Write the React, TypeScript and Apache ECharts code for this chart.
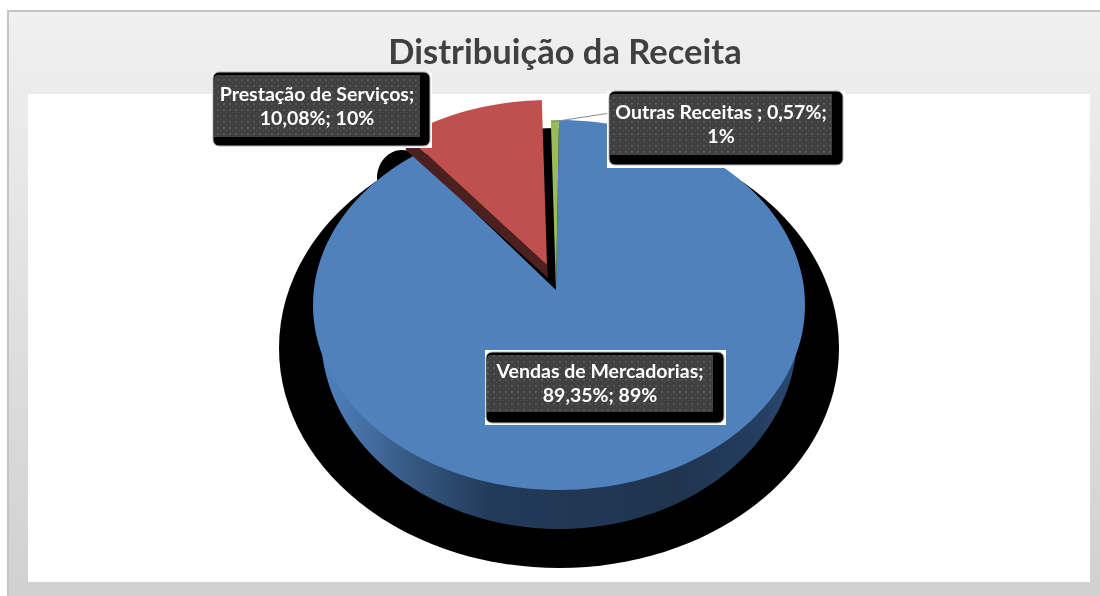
import React, { useEffect, useRef } from "react";
import * as echarts from "echarts";

const categories = ["Vendas de Mercadorias", "Prestação de Serviços", "Outras Receitas "];
const shares = [89.35, 10.08, 0.57];
const shareLabels = ["89,35%", "10,08%", "0,57%"];
const rounded = ["89%", "10%", "1%"];
const sliceColors = ["#4f81bd", "#c0504d", "#9bbb59"];
const title = "Distribuição da Receita";

const FONT = "Lato, sans-serif";
const CX = 559, CY = 305, RX = 246, RY = 185, APEX_X = 556, APEX_Y = 290, START = 0;
const WALL_CY = 335, WALL_RX = 238, WALL_RY = 194;
const RED_DX = -9, RED_DY = -20, RED_APEX_DY = -25;
const BOXES = [
  { x: 487, y: 355, w: 226, h: 57, r: 724, b: 423, outer: [485, 350, 241, 75] },
  { x: 214, y: 75, w: 206, h: 62, r: 430, b: 146, outer: [212, 73, 220, 75] },
  { x: 610, y: 94, w: 222, h: 61, r: 843, b: 165, outer: [607, 91, 238, 77] },
];

function warp(deg: number): number {
  // foreshortening of the 3D view
  return deg - 4 * Math.sin((deg * Math.PI) / 180);
}
function pt(deg: number, dy = 0, dx = 0): number[] {
  const r = (warp(deg) * Math.PI) / 180;
  return [CX + RX * Math.sin(r) + dx, CY - RY * Math.cos(r) + dy];
}
function arc(a: number, b: number, dy = 0, dx = 0): number[][] {
  const n = Math.max(2, Math.ceil(Math.abs(b - a) / 2));
  const out: number[][] = [];
  for (let i = 0; i <= n; i++) out.push(pt(a + ((b - a) * i) / n, dy, dx));
  return out;
}
function wallRim(): number[][] {
  const out: number[][] = [];
  for (let d = 90; d <= 270; d += 2) {
    const r = (d * Math.PI) / 180;
    out.push([CX + WALL_RX * Math.sin(r), WALL_CY - WALL_RY * Math.cos(r)]);
  }
  return out;
}
function sliceAngles(i: number): number[] {
  const total = shares.reduce((s, v) => s + v, 0);
  const before = shares.slice(0, i).reduce((s, v) => s + v, 0);
  return [START + (before / total) * 360, START + ((before + shares[i]) / total) * 360];
}
function dotPattern(): any {
  const c = document.createElement("canvas");
  c.width = 6; c.height = 6;
  const g = c.getContext("2d")!;
  g.fillStyle = "#404040"; g.fillRect(0, 0, 6, 6);
  g.fillStyle = "#555555"; g.fillRect(1, 1, 2, 2); g.fillRect(4, 4, 1, 1);
  return { image: c, repeat: "repeat" };
}

export default function App() {
  const ref = useRef<HTMLDivElement>(null);
  useEffect(() => {
    document.body.style.margin = "0";
    document.body.style.overflow = "hidden";
    const chart = echarts.init(ref.current!, undefined, { renderer: "svg" });
    const pattern = dotPattern();
    const labelEls: any[] = categories.map((c, i) => {
      const b = BOXES[i];
      const line1 = i === 2 ? `${c}; ${shareLabels[i]};` : `${c};`;
      const line2 = i === 2 ? rounded[i] : `${shareLabels[i]}; ${rounded[i]}`;
      return {
        type: "group",
        z: 50,
        children: [
          { type: "rect", z: 50, shape: { x: b.outer[0], y: b.outer[1], width: b.outer[2], height: b.outer[3] }, style: { fill: "#ffffff" } },
          { type: "rect", z: 51, shape: { x: b.x - 1, y: b.y - 3, width: b.r - b.x + 1, height: b.b - b.y + 3, r: 6 }, style: { fill: "#000000", stroke: "#b4b4b4", lineWidth: 1 } },
          { type: "rect", z: 52, shape: { x: b.x, y: b.y, width: b.w, height: b.h, r: [4, 0, 0, 0] }, style: { fill: pattern } },
          { type: "text", z: 53, x: b.x + b.w / 2, y: b.y + b.h / 2 - 1, style: { text: `${line1}\n${line2}`, fill: "#ffffff", font: `bold 19.5px ${FONT}`, align: "center", verticalAlign: "middle", lineHeight: 24 } },
        ],
      };
    });
    chart.setOption({
      animation: false,
      title: { text: title, left: 560, top: 28, textAlign: "center", textStyle: { fontFamily: FONT, fontWeight: "bold", fontSize: 34.5, color: "#404040" } },
      graphic: [
        { type: "rect", z: -3, shape: { x: 8, y: 11, width: 1100, height: 600 }, style: { fill: new echarts.graphic.LinearGradient(0, 0, 0, 1, [{ offset: 0, color: "#f0f0f0" }, { offset: 1, color: "#d0d0d0" }]), stroke: "#c4c4c4", lineWidth: 2 } },
        { type: "rect", z: -2, shape: { x: 28, y: 94, width: 1062, height: 488 }, style: { fill: "#ffffff" } },
        { type: "group", z: 50, children: labelEls },
      ],
      series: [
        {
          type: "custom", coordinateSystem: "none", z: 2, silent: true, data: [0],
          renderItem: () => ({
            type: "group",
            children: [
              { type: "ellipse", shape: { cx: 559, cy: 348, rx: 280, ry: 220 }, style: { fill: "#000000" } },
              { type: "ellipse", shape: { cx: 402, cy: 178, rx: 25, ry: 28 }, style: { fill: "#000000" } },
            ],
          }),
        },
        {
          type: "custom", coordinateSystem: "none", z: 3, silent: true, data: [0],
          renderItem: () => ({
            type: "polygon",
            shape: { points: wallRim() },
            style: {
              fill: new echarts.graphic.LinearGradient(0, 0, 1, 0, [
                { offset: 0, color: "#4f81bd" },
                { offset: 0.06, color: "#4a76ad" },
                { offset: 0.2, color: "#34567f" },
                { offset: 0.36, color: "#223a59" },
                { offset: 0.75, color: "#20344f" },
                { offset: 0.92, color: "#243e60" },
                { offset: 1, color: "#2a4a72" },
              ]),
            },
          }),
        },
        {
          type: "custom", coordinateSystem: "none", z: 4, silent: true, data: shares.map((v, i) => [i, v]),
          renderItem: (_p: any, api: any) => {
            const i = api.value(0) as number;
            const [a, b] = sliceAngles(i);
            if (i === 1) {
              const apex = [APEX_X + RED_DX, APEX_Y + RED_APEX_DY];
              const rim = arc(a, b, RED_DY, RED_DX);
              return {
                type: "group",
                children: [
                  { type: "polygon", shape: { points: [[apex[0] + 1, apex[1] + 13], [rim[0][0], rim[0][1] + 15], rim[0], apex] }, style: { fill: "#4d2020" } },
                  { type: "polygon", shape: { points: [apex, ...rim] }, style: { fill: sliceColors[i] } },
                ],
              };
            }
            return {
              type: "polygon",
              shape: { points: [[APEX_X, APEX_Y], ...arc(a, b)] },
              style: { fill: sliceColors[i] },
            };
          },
        },
        {
          type: "custom", coordinateSystem: "none", z: 5, silent: true, data: [0],
          renderItem: () => ({
            type: "polyline",
            shape: { points: [[610, 113], [552, 122]] },
            style: { stroke: "#8c8c8c", lineWidth: 1.2, fill: "none" },
          }),
        },
      ],
    });
    return () => chart.dispose();
  }, []);
  return <div ref={ref} style={{ position: "fixed", left: 0, top: 0, width: 1100, height: 596 }} />;
}
